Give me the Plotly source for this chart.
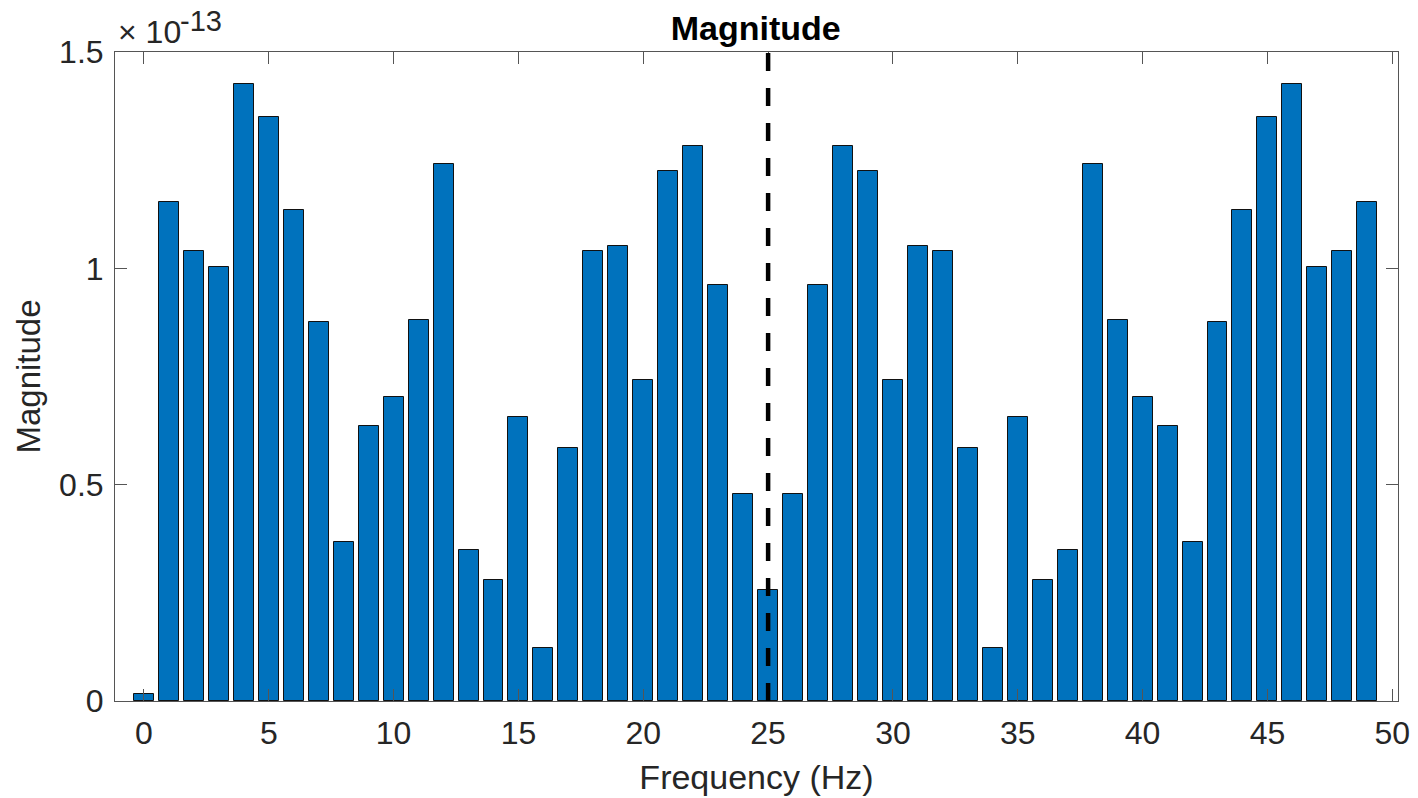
import plotly.graph_objects as go

# Data (magnitudes in units of 1e-13)
frequency_hz = list(range(50))
magnitude_e13 = [
    0.017, 1.153, 1.039, 1.003, 1.425, 1.350, 1.135, 0.876, 0.367, 0.636,
    0.703, 0.881, 1.242, 0.350, 0.280, 0.656, 0.122, 0.585, 1.039, 1.051,
    0.741, 1.225, 1.283, 0.962, 0.478, 0.256, 0.478, 0.962, 1.283, 1.225,
    0.741, 1.051, 1.039, 0.585, 0.122, 0.656, 0.280, 0.350, 1.242, 0.881,
    0.703, 0.636, 0.367, 0.876, 1.135, 1.350, 1.425, 1.003, 1.039, 1.153,
]
SCALE = 1e-13
magnitude = [v * SCALE for v in magnitude_e13]
nyquist_hz = 25

x_tick_vals = [0, 5, 10, 15, 20, 25, 30, 35, 40, 45, 50]
y_tick_vals_e13 = [0, 0.5, 1, 1.5]
y_tick_text = ["0", "0.5", "1", "1.5"]

FONT = "Liberation Sans, Arial, Helvetica, sans-serif"
TXT = "#262626"
AX = "#555555"

fig = go.Figure()
fig.add_trace(go.Bar(
    x=frequency_hz, y=magnitude, width=0.8,
    marker=dict(color="#0072BD", line=dict(color="#111111", width=1)),
    showlegend=False,
))
fig.add_shape(
    type="line", xref="x", yref="y",
    x0=nyquist_hz, x1=nyquist_hz, y0=0, y1=1.5 * SCALE,
    line=dict(color="black", width=4.5, dash="18px,17px"),
    layer="above",
)

fig.update_layout(
    width=1418, height=798,
    margin=dict(l=115, r=20, t=52, b=97),
    paper_bgcolor="white", plot_bgcolor="white",
    bargap=0,
    font=dict(family=FONT, color=TXT, size=32),
    title=dict(text="<b>Magnitude</b>", x=0.533, xanchor="center", y=0.965,
               yanchor="middle", font=dict(size=34, color="black", family=FONT)),
)
fig.update_xaxes(
    range=[-1.16, 50.23], tickvals=x_tick_vals,
    ticks="inside", ticklen=12, tickwidth=1, tickcolor=AX,
    showline=True, linecolor=AX, linewidth=1, mirror="ticks",
    showgrid=False, zeroline=False, automargin=False,
    tickfont=dict(size=32, color=TXT), ticklabelstandoff=4,
    title=dict(text="Frequency (Hz)", font=dict(size=34, color=TXT), standoff=14),
)
fig.update_yaxes(
    range=[0, 1.5 * SCALE],
    tickvals=[v * SCALE for v in y_tick_vals_e13], ticktext=y_tick_text,
    ticks="inside", ticklen=12, tickwidth=1, tickcolor=AX,
    showline=True, linecolor=AX, linewidth=1, mirror="ticks",
    showgrid=False, zeroline=False, automargin=False,
    tickfont=dict(size=32, color=TXT), ticklabelstandoff=4,
    title=dict(text="Magnitude", font=dict(size=33, color=TXT), standoff=8),
)
fig.add_annotation(
    text="× 10", xref="paper", yref="paper",
    x=0.0, y=1.0, xanchor="left", yanchor="bottom", xshift=1, yshift=0,
    showarrow=False, font=dict(size=32, color=TXT, family=FONT),
)
fig.add_annotation(
    text="-13", xref="paper", yref="paper",
    x=0.0, y=1.0, xanchor="left", yanchor="bottom", xshift=63, yshift=13,
    showarrow=False, font=dict(size=29, color=TXT, family=FONT),
)

fig.write_html("out.html")
